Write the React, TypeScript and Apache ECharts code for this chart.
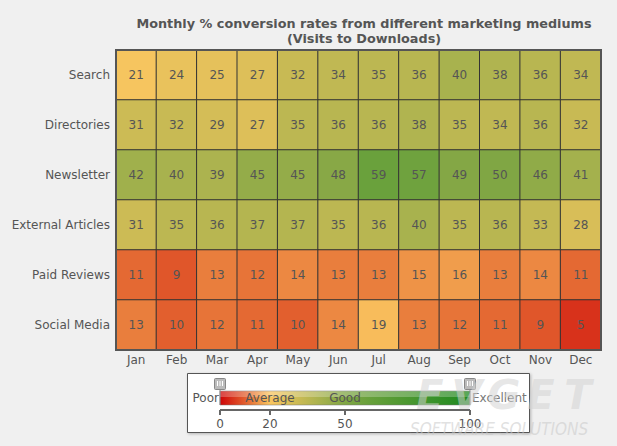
import React, { useEffect, useRef } from "react";
import * as echarts from "echarts";

const months = ["Jan", "Feb", "Mar", "Apr", "May", "Jun", "Jul", "Aug", "Sep", "Oct", "Nov", "Dec"];
const mediums = ["Search", "Directories", "Newsletter", "External Articles", "Paid Reviews", "Social Media"];

const search = [21, 24, 25, 27, 32, 34, 35, 36, 40, 38, 36, 34];
const directories = [31, 32, 29, 27, 35, 36, 36, 38, 35, 34, 36, 32];
const newsletter = [42, 40, 39, 45, 45, 48, 59, 57, 49, 50, 46, 41];
const externalArticles = [31, 35, 36, 37, 37, 35, 36, 40, 35, 36, 33, 28];
const paidReviews = [11, 9, 13, 12, 14, 13, 13, 15, 16, 13, 14, 11];
const socialMedia = [13, 10, 12, 11, 10, 14, 19, 13, 12, 11, 9, 5];

const legendTicks = [0, 20, 50, 100];
const legendNames = [
  { text: "Average", at: 20 },
  { text: "Good", at: 50 },
];

// colour stops every 10 units from 0 to 100
const scaleColors = [
  "#ce0508", "#e25f2e", "#fac660", "#d0bc56", "#a8b24e", "#80a644",
  "#67a03b", "#559a34", "#43952e", "#318f27", "#208a20",
];

const rows = [search, directories, newsletter, externalArticles, paidReviews, socialMedia];

export default function App() {
  const ref = useRef<HTMLDivElement>(null);
  useEffect(() => {
    document.body.style.margin = "0";
    const chart = echarts.init(ref.current!, null, { renderer: "svg" });
    const data: number[][] = [];
    rows.forEach((r, ri) => r.forEach((v, ci) => data.push([ci, ri, v])));

    const font = "DejaVu Sans, Verdana, sans-serif";
    const gx0 = 116, gy0 = 50, gw = 485, gh = 300;
    const lx0 = 220, lx1 = 470;
    const lx = (v: number) => lx0 + ((lx1 - lx0) * v) / 100;

    const graphics: any[] = [
      {
        type: "rect", z: 100, silent: true,
        shape: { x: gx0, y: gy0, width: gw, height: gh },
        style: { fill: "none", stroke: "#555", lineWidth: 2 },
      },
      // legend box
      {
        type: "rect", z: 10,
        shape: { x: 187.5, y: 373.5, width: 342, height: 59 },
        style: { fill: "#fff", stroke: "#555", lineWidth: 1, shadowBlur: 3, shadowColor: "rgba(0,0,0,0.25)", shadowOffsetX: 1, shadowOffsetY: 1 },
      },
      {
        type: "rect", z: 11,
        shape: { x: lx0, y: 391, width: lx1 - lx0, height: 14 },
        style: {
          fill: new echarts.graphic.LinearGradient(0, 0, 1, 0,
            scaleColors.map((c, i) => ({ offset: i / (scaleColors.length - 1), color: c }))),
          stroke: "#777", lineWidth: 0.5,
        },
      },
      {
        type: "rect", z: 12,
        shape: { x: lx0, y: 391, width: lx1 - lx0, height: 6 },
        style: { fill: "rgba(255,255,255,0.25)" },
      },
      {
        type: "line", z: 12,
        shape: { x1: lx0, y1: 410, x2: lx1, y2: 410 },
        style: { stroke: "#666", lineWidth: 2 },
      },
      {
        type: "text", z: 13,
        style: { text: "Poor", x: lx0 - 1, y: 398, align: "right", verticalAlign: "middle", fill: "#555", font: `12px ${font}` },
      },
      {
        type: "text", z: 13,
        style: { text: "Excellent", x: lx1 + 2, y: 398, align: "left", verticalAlign: "middle", fill: "#777", font: `12px ${font}` },
      },
    ];
    legendTicks.forEach((t) => {
      graphics.push({
        type: "line", z: 12,
        shape: { x1: lx(t), y1: 410, x2: lx(t), y2: 415 },
        style: { stroke: "#666", lineWidth: 2 },
      });
      graphics.push({
        type: "text", z: 13,
        style: { text: String(t), x: lx(t), y: 424, align: "center", verticalAlign: "middle", fill: "#555", font: `12px ${font}` },
      });
    });
    legendNames.forEach((n) => {
      graphics.push({
        type: "text", z: 13,
        style: { text: n.text, x: lx(n.at), y: 398, align: "center", verticalAlign: "middle", fill: "#555", font: `12px ${font}` },
      });
    });
    [0, 100].forEach((t) => {
      graphics.push({
        type: "rect", z: 14,
        shape: { x: lx(t) - 5.5, y: 378.5, width: 11, height: 11, r: 1 },
        style: { fill: "#bbb", stroke: "#888", lineWidth: 1 },
      });
      graphics.push({
        type: "line", z: 14,
        shape: { x1: lx(t), y1: 389, x2: lx(t), y2: 405 },
        style: { stroke: "#888", lineWidth: 1 },
      });
      [-2.5, 0, 2.5].forEach((d) => {
        graphics.push({
          type: "line", z: 15,
          shape: { x1: lx(t) + d, y1: 381, x2: lx(t) + d, y2: 386 },
          style: { stroke: "#fff", lineWidth: 1 },
        });
      });
    });
    // watermark
    "EVGET".split("").forEach((ch, i) => {
      graphics.push({
        type: "text", z: 50, silent: true,
        style: { text: ch, x: 430 + i * 37, y: 395, align: "center", verticalAlign: "middle", fill: "rgba(210,210,210,0.55)", font: `italic bold 40px ${font}` },
      });
    });
    graphics.push({
      type: "text", z: 50, silent: true,
      style: { text: "SOFTWARE SOLUTIONS", x: 410, y: 429, verticalAlign: "middle", fill: "rgba(200,200,200,0.55)", font: `italic 17px 'DejaVu Sans Condensed', ${font}` },
    });

    chart.setOption({
      animation: false,
      backgroundColor: "#f0f0f0",
      title: {
        text: "Monthly % conversion rates from different marketing mediums\n(Visits to Downloads)",
        left: 359,
        top: 11,
        textAlign: "center",
        textStyle: { fontFamily: font, fontSize: 12.8, fontWeight: "bold", color: "#555", lineHeight: 15 },
      },
      grid: { left: gx0, top: gy0, width: gw, height: gh },
      xAxis: {
        type: "category",
        data: months,
        axisLine: { show: false },
        axisTick: { show: false },
        axisLabel: { color: "#555", fontFamily: font, fontSize: 12, margin: 4 },
        splitArea: { show: false },
      },
      yAxis: {
        type: "category",
        data: mediums,
        inverse: true,
        axisLine: { show: false },
        axisTick: { show: false },
        axisLabel: { color: "#555", fontFamily: font, fontSize: 12, margin: 6 },
      },
      visualMap: {
        show: false,
        type: "continuous",
        min: 0,
        max: 100,
        dimension: 2,
        inRange: { color: scaleColors },
      },
      series: [
        {
          type: "heatmap",
          data,
          label: { show: true, color: "#555", fontFamily: font, fontSize: 12 },
          itemStyle: { borderColor: "#333", borderWidth: 1 },
          emphasis: { disabled: true },
        },
      ],
      graphic: graphics,
    });
    return () => chart.dispose();
  }, []);
  return <div ref={ref} style={{ width: 617, height: 446 }} />;
}
